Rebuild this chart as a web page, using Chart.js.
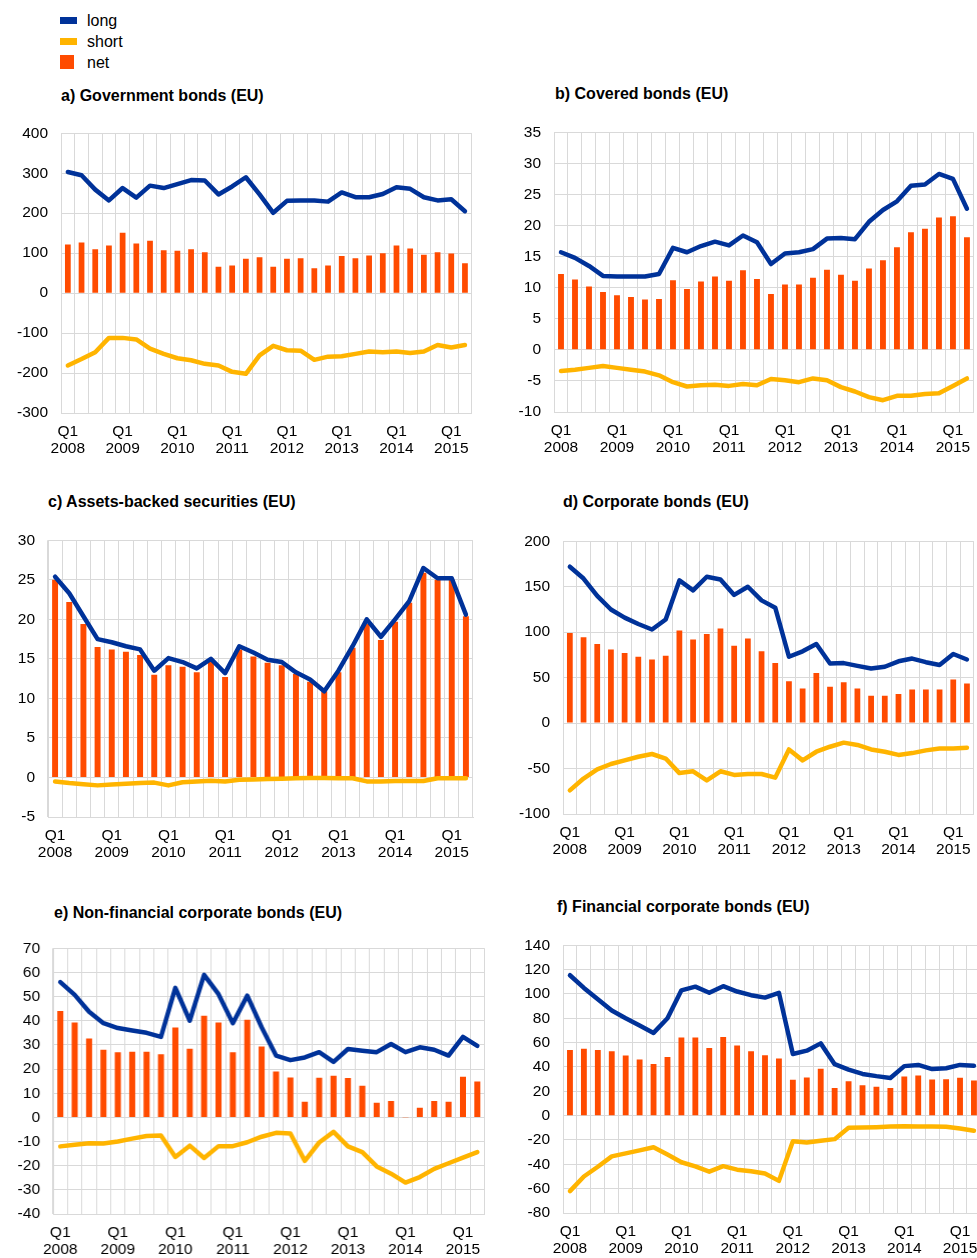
<!DOCTYPE html>
<html>
<head>
<meta charset="utf-8">
<script src="https://cdn.jsdelivr.net/npm/chart.js@4.4.1/dist/chart.umd.min.js"></script>
<style>
  html, body { margin: 0; padding: 0; background: #fff; overflow: hidden; }
  body { width: 977px; height: 1258px; position: relative; font-family: "Liberation Sans", Arial, sans-serif; }
  .legend { position: absolute; left: 60px; top: 10px; font-size: 16px; color: #000; }
  .legend div { position: relative; height: 21px; line-height: 21px; padding-left: 27px; }
  .legend span { position: absolute; left: 0; }
  .title { position: absolute; font-size: 16px; font-weight: bold; color: #000; white-space: nowrap; }
  .panel { position: absolute; }
</style>
</head>
<body>
<div class="legend">
  <div><span style="top:7px;width:17px;height:7px;background:#003299"></span>long</div>
  <div><span style="top:7px;width:17px;height:7px;background:#ffb400"></span>short</div>
  <div><span style="top:3px;width:14px;height:14px;background:#ff4b00"></span>net</div>
</div>

<script>
// === DATA ===
const quarters = [];
for (let y = 2008; y <= 2015; y++) {
    for (let q = 1; q <= 4; q++) {
        if (y === 2015 && q > 2) break;
        quarters.push(`Q${q} ${y}`);
    }
}

const panelTitles = [
    'a) Government bonds (EU)',
    'b) Covered bonds (EU)',
    'c) Assets-backed securities (EU)',
    'd) Corporate bonds (EU)',
    'e) Non-financial corporate bonds (EU)',
    'f) Financial corporate bonds (EU)'
];

// a) Government bonds
const govLong  = [303, 295, 259, 232, 263, 239, 269, 263, 273, 283, 282, 247, 267, 290, 247, 201, 231, 232, 232, 229, 252, 240, 240, 248, 265, 261, 240, 232, 235, 205];
const govShort = [-181, -165, -148, -112, -112, -116, -139, -152, -163, -168, -177, -181, -197, -202, -156, -132, -143, -144, -167, -159, -158, -152, -146, -148, -146, -150, -146, -130, -136, -130];
const govNet   = [122, 127, 110, 119, 151, 124, 131, 107, 106, 110, 102, 66, 69, 86, 90, 66, 86, 87, 62, 69, 93, 87, 94, 100, 119, 112, 96, 102, 99, 75];

// b) Covered bonds
const covLong  = [15.7, 14.8, 13.5, 11.9, 11.8, 11.8, 11.8, 12.2, 16.4, 15.7, 16.7, 17.4, 16.8, 18.4, 17.3, 13.8, 15.5, 15.7, 16.2, 17.9, 18.0, 17.8, 20.6, 22.5, 23.9, 26.4, 26.6, 28.3, 27.5, 22.7];
const covShort = [-3.4, -3.2, -2.9, -2.6, -2.9, -3.2, -3.5, -4.1, -5.2, -5.9, -5.7, -5.6, -5.8, -5.5, -5.7, -4.7, -4.9, -5.2, -4.6, -4.9, -6.0, -6.7, -7.6, -8.1, -7.4, -7.4, -7.1, -7.0, -5.8, -4.6];
const covNet   = [12.2, 11.3, 10.2, 9.3, 8.8, 8.5, 8.1, 8.2, 11.2, 9.8, 11.0, 11.8, 11.1, 12.8, 11.4, 9.0, 10.5, 10.5, 11.6, 12.9, 12.1, 11.1, 13.1, 14.4, 16.5, 18.9, 19.5, 21.3, 21.5, 18.1];

// c) Asset-backed securities
const absLong  = [25.4, 23.3, 20.4, 17.5, 17.1, 16.6, 16.2, 13.5, 15.1, 14.6, 13.8, 15.0, 13.2, 16.6, 15.8, 14.9, 14.6, 13.3, 12.4, 10.9, 13.5, 16.6, 20.0, 17.8, 20.0, 22.3, 26.5, 25.2, 25.2, 20.6];
const absShort = [-0.5, -0.7, -0.85, -1.0, -0.9, -0.8, -0.7, -0.65, -1.0, -0.6, -0.5, -0.4, -0.5, -0.3, -0.25, -0.2, -0.15, -0.1, -0.08, -0.08, -0.1, -0.1, -0.5, -0.5, -0.45, -0.45, -0.45, -0.1, -0.1, -0.1];
const absNet   = [25.0, 22.2, 19.4, 16.5, 16.2, 15.9, 15.5, 13.0, 14.2, 14.0, 13.3, 14.6, 12.7, 16.2, 15.3, 14.5, 14.2, 13.1, 12.1, 10.9, 13.3, 16.4, 19.4, 17.4, 19.7, 22.1, 25.9, 25.0, 25.0, 20.4];

// d) Corporate bonds
const corpLong  = [172, 159, 140, 125, 116, 109, 103, 114, 157, 146, 161, 158, 141, 150, 135, 127, 73, 79, 87, 65.5, 66, 63, 60, 62, 68, 71, 67, 64, 76, 70];
const corpShort = [-74, -61, -51, -45, -41, -37, -34, -39, -55, -53, -63, -53, -57, -56, -56, -60, -29, -41, -31.5, -26, -21.5, -24, -29, -31.5, -35, -33, -30, -28, -28, -27];
const corpNet   = [99, 94.5, 87, 81, 77, 73, 70, 74, 102, 92, 98, 104, 85, 93, 79, 66, 46, 38, 55, 40, 45, 38, 30, 30, 32, 37, 37, 37, 48, 43.5];

// e) Non-financial corporate bonds
const nfcLong  = [56, 50.7, 43.7, 39, 37, 36, 35, 33.3, 53.6, 40, 59, 51, 39, 50.4, 37.3, 25.6, 23.7, 24.8, 27, 23, 28.3, 27.6, 27, 30.4, 27, 29, 28, 25.6, 33.3, 29.6];
const nfcShort = [-12, -11.3, -10.7, -10.8, -10, -8.8, -7.7, -7.5, -16.4, -11.7, -16.8, -11.9, -11.9, -10.3, -8, -6.4, -6.7, -18, -10.4, -6, -12, -14.4, -20.3, -23.3, -27, -24.7, -21.3, -19, -16.7, -14.4];
const nfcNet   = [44, 39.3, 32.7, 28, 27, 27.2, 27.2, 26.1, 37.2, 28.4, 42.1, 39.3, 27, 40.4, 29.3, 19, 16.5, 6.5, 16.4, 17.2, 16.3, 13.1, 6.1, 6.8, 0.1, 4, 6.8, 6.5, 16.8, 14.9];

// f) Financial corporate bonds
const finLong  = [115.4, 105, 95.6, 86.4, 80, 74, 68, 80, 103, 106, 101, 106.4, 102, 99, 97, 101, 50.7, 53.4, 59.4, 42.3, 37.8, 34.3, 32.5, 31, 40.7, 41.7, 38.3, 39, 41.7, 41];
const finShort = [-62, -50, -42, -33.5, -31, -28.5, -26, -32, -38.3, -41.7, -46, -41.5, -44.4, -45.7, -47.5, -53.6, -21, -22, -20.6, -19.3, -10, -9.8, -9.5, -9, -8.7, -9, -9, -9.2, -10.6, -12.4];
const finNet   = [54, 55, 54, 53, 49.4, 46.2, 42.5, 48.3, 64.2, 64.2, 55.7, 64.7, 57.6, 53, 49.7, 47, 29.6, 31.4, 38.6, 22.7, 28.3, 25, 23.8, 22.7, 32.2, 33, 29.8, 30, 31.2, 28.8];

// y-axis ranges: [min, max, step]
const yRanges = [
    [-300, 400, 100],
    [-10, 35, 5],
    [-5, 30, 5],
    [-100, 200, 50],
    [-40, 70, 10],
    [-80, 140, 20]
];

const seriesLong  = [govLong, covLong, absLong, corpLong, nfcLong, finLong];
const seriesShort = [govShort, covShort, absShort, corpShort, nfcShort, finShort];
const seriesNet   = [govNet, covNet, absNet, corpNet, nfcNet, finNet];

// === LAYOUT (plot area: left, top, right, bottom) + title position ===
const plotBoxes = [
    { plot: [61, 123, 472, 413], title: [61, 87] },
    { plot: [554, 122, 974, 412], title: [555, 85] },
    { plot: [48, 530, 473, 817], title: [48, 493] },
    { plot: [563, 531, 974, 814], title: [563, 493] },
    { plot: [53, 938, 483.5, 1214], title: [54, 904] },
    { plot: [563, 935, 981, 1213], title: [557, 898] }
];

const BLUE = '#003299';
const YELLOW = '#ffb400';
const ORANGE = '#ff4b00';
const GRID = '#d9d9d9';
const FONT = '"Liberation Sans", Arial, sans-serif';

const Y_AXIS_W = 60;
const PAD_TOP = 12;
const PAD_RIGHT = 3;
const X_AXIS_H = 48;

function makePanel(i) {
    const [l, t, r, b] = plotBoxes[i].plot;

    // title
    const title = document.createElement('div');
    title.className = 'title';
    title.textContent = panelTitles[i];
    title.style.left = plotBoxes[i].title[0] + 'px';
    title.style.top = plotBoxes[i].title[1] + 'px';
    document.body.appendChild(title);

    // canvas holder
    const holder = document.createElement('div');
    holder.className = 'panel';
    const w = r - l + Y_AXIS_W + PAD_RIGHT;
    const h = b - t + PAD_TOP + X_AXIS_H;
    holder.style.left = (l - Y_AXIS_W) + 'px';
    holder.style.top = (t - PAD_TOP) + 'px';
    holder.style.width = w + 'px';
    holder.style.height = h + 'px';
    const canvas = document.createElement('canvas');
    holder.appendChild(canvas);
    document.body.appendChild(holder);

    const [yMin, yMax, yStep] = yRanges[i];

    new Chart(canvas.getContext('2d'), {
        type: 'bar',
        data: {
            labels: quarters,
            datasets: [
                {
                    type: 'line',
                    label: 'long',
                    data: seriesLong[i],
                    borderColor: BLUE,
                    backgroundColor: BLUE,
                    borderWidth: 4.5,
                    pointRadius: 0,
                    tension: 0,
                    borderCapStyle: 'round',
                    borderJoinStyle: 'round',
                    order: 1
                },
                {
                    type: 'line',
                    label: 'short',
                    data: seriesShort[i],
                    borderColor: YELLOW,
                    backgroundColor: YELLOW,
                    borderWidth: 4.5,
                    pointRadius: 0,
                    tension: 0,
                    borderCapStyle: 'round',
                    borderJoinStyle: 'round',
                    order: 2
                },
                {
                    type: 'bar',
                    label: 'net',
                    data: seriesNet[i],
                    backgroundColor: ORANGE,
                    barPercentage: 0.42,
                    categoryPercentage: 1,
                    order: 3
                }
            ]
        },
        options: {
            responsive: true,
            maintainAspectRatio: false,
            animation: false,
            layout: { padding: { top: PAD_TOP, right: PAD_RIGHT, bottom: 0, left: 0 } },
            plugins: { legend: { display: false }, tooltip: { enabled: false } },
            scales: {
                x: {
                    grid: { color: GRID, lineWidth: 1, drawTicks: false, offset: true },
                    border: { color: GRID },
                    ticks: {
                        autoSkip: false,
                        maxRotation: 0,
                        padding: 10,
                        color: '#000',
                        font: { family: FONT, size: 15.5, lineHeight: 1.12 },
                        callback: function (val, idx) {
                            const lab = quarters[idx];
                            return lab.startsWith('Q1') ? lab.split(' ') : '';
                        }
                    },
                    afterFit: s => { s.height = X_AXIS_H; }
                },
                y: {
                    min: yMin,
                    max: yMax,
                    grid: { color: GRID, lineWidth: 1, drawTicks: false },
                    border: { color: GRID },
                    ticks: {
                        stepSize: yStep,
                        padding: 13,
                        color: '#000',
                        font: { family: FONT, size: 15.5 }
                    },
                    afterFit: s => { s.width = Y_AXIS_W; }
                }
            }
        }
    });
}

for (let i = 0; i < 6; i++) makePanel(i);
</script>
</body>
</html>
